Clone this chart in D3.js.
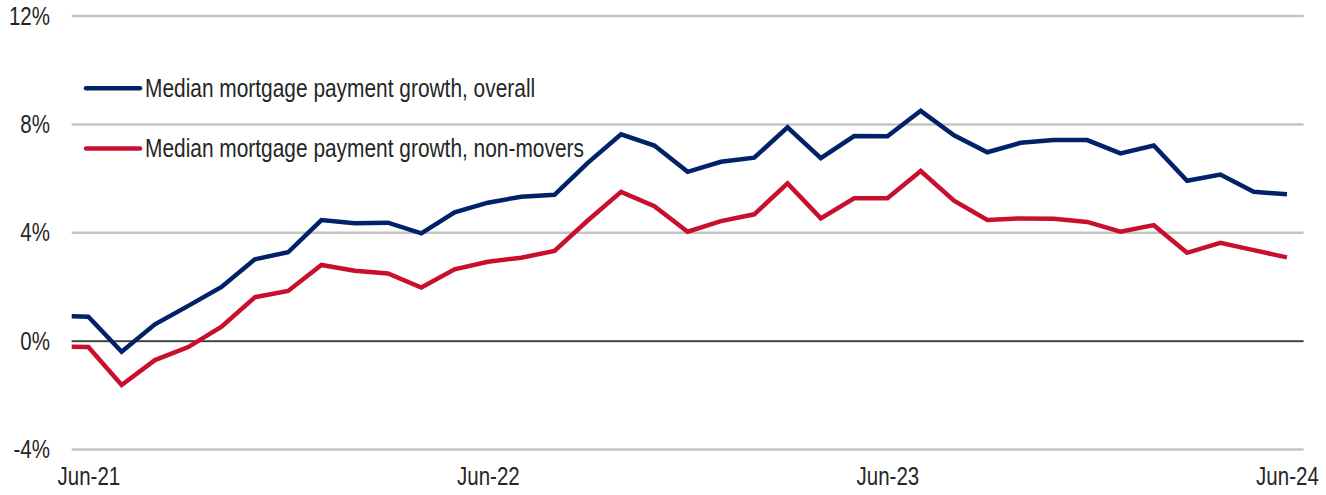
<!DOCTYPE html>
<html>
<head>
<meta charset="utf-8">
<script src="https://cdn.jsdelivr.net/npm/d3@7"></script>
<style>
  html, body { margin: 0; padding: 0; background: #ffffff; }
  svg { display: block; }
  text { font-family: "Liberation Sans", Arial, sans-serif; fill: #262626; }
</style>
</head>
<body>
<svg id="chart" width="1326" height="495"></svg>
<script>
// Month offsets from Jun-21 (the leading half-month point opens the series)
const monthOffset = [-0.5, 0, 1, 2, 3, 4, 5, 6, 7, 8, 9, 10, 11, 12, 13, 14, 15, 16, 17, 18,
  19, 20, 21, 22, 23, 24, 25, 26, 27, 28, 29, 30, 31, 32, 33, 34, 35, 36];

// Median mortgage payment growth, overall (%)
const overall = [0.92, 0.90, -0.39, 0.62, 1.30, 2.00, 3.02, 3.28, 4.47, 4.35, 4.37, 3.98, 4.75,
  5.11, 5.33, 5.40, 6.58, 7.63, 7.22, 6.25, 6.62, 6.77, 7.89, 6.75, 7.57, 7.56, 8.50, 7.60,
  6.97, 7.32, 7.42, 7.42, 6.93, 7.22, 5.92, 6.15, 5.51, 5.42];

// Median mortgage payment growth, non-movers (%)
const nonMovers = [-0.21, -0.22, -1.62, -0.70, -0.22, 0.53, 1.62, 1.85, 2.81, 2.60, 2.50, 1.98,
  2.65, 2.93, 3.08, 3.33, 4.45, 5.51, 4.98, 4.04, 4.43, 4.68, 5.82, 4.53, 5.27, 5.27, 6.28,
  5.18, 4.47, 4.53, 4.52, 4.40, 4.04, 4.28, 3.26, 3.63, 3.36, 3.09];

// Axis ticks
const xTickOffsets = [0, 12, 24, 36];
const xTickLabels = ["Jun-21", "Jun-22", "Jun-23", "Jun-24"];
const yTicks = [-4, 0, 4, 8, 12];

const seriesNames = ["Median mortgage payment growth, overall",
                     "Median mortgage payment growth, non-movers"];
const seriesColors = ["#012169", "#C8102E"];

// Condensed lettering: regular face squeezed horizontally
const squeeze = 0.82;
const axisFontSize = 25;
const legendFontSize = 25.5;
const fontStack = "\"Liberation Sans\", Arial, sans-serif";

const svg = d3.select("#chart");

const x = d3.scaleLinear().domain([-0.5, 36.5]).range([71.7, 1303.6]);
const y = d3.scaleLinear().domain([-4, 12]).range([449.5, 16]);

// Horizontal gridlines
svg.append("g").selectAll("line")
  .data(yTicks)
  .join("line")
  .attr("x1", x(-0.5)).attr("x2", x(36.5))
  .attr("y1", d => y(d)).attr("y2", d => y(d))
  .attr("stroke", "#c4c4c4")
  .attr("stroke-width", 2.5);

// Zero line
svg.append("line")
  .attr("x1", x(-0.5)).attr("x2", x(36.5))
  .attr("y1", y(0)).attr("y2", y(0))
  .attr("stroke", "#111111")
  .attr("stroke-width", 1.3);

// Y axis labels
const yAxis = d3.axisLeft(y)
  .tickValues(yTicks)
  .tickFormat(d => d + "%")
  .tickSize(0)
  .tickPadding(0);
const yg = svg.append("g").attr("transform", "translate(50,0)").call(yAxis);
yg.select(".domain").remove();
yg.selectAll("text")
  .attr("font-size", axisFontSize)
  .attr("fill", "#262626")
  .attr("transform", `scale(${squeeze},1)`)
  .style("font-family", fontStack);

// X axis labels
const xAxis = d3.axisBottom(x)
  .tickValues(xTickOffsets)
  .tickFormat((d, i) => xTickLabels[i])
  .tickSize(0)
  .tickPadding(0);
const xg = svg.append("g").attr("transform", "translate(0,467)").call(xAxis);
xg.select(".domain").remove();
xg.selectAll("text")
  .attr("font-size", axisFontSize)
  .attr("fill", "#262626")
  .attr("transform", `scale(${squeeze},1)`)
  .style("font-family", fontStack);

// Series lines
const line = d3.line()
  .x(d => x(d[0]))
  .y(d => y(d[1]));

const series = [overall, nonMovers];
series.slice().reverse().forEach((vals, k) => {
  const idx = series.length - 1 - k;
  svg.append("path")
    .datum(monthOffset.map((m, i) => [m, vals[i]]))
    .attr("d", line)
    .attr("fill", "none")
    .attr("stroke", seriesColors[idx])
    .attr("stroke-width", 4.5)
    .attr("stroke-linejoin", "miter")
    .attr("stroke-linecap", "butt");
});

// Legend
const legendY = [88.3, 148.5];
const legend = svg.append("g");
seriesNames.forEach((name, i) => {
  legend.append("line")
    .attr("x1", 86).attr("x2", 140)
    .attr("y1", legendY[i]).attr("y2", legendY[i])
    .attr("stroke", seriesColors[i])
    .attr("stroke-width", 4.5)
    .attr("stroke-linecap", "round");
  legend.append("text")
    .attr("transform", `translate(145,${legendY[i]}) scale(${squeeze},1)`)
    .attr("dy", "0.35em")
    .attr("font-size", legendFontSize)
    .text(name);
});
</script>
</body>
</html>
